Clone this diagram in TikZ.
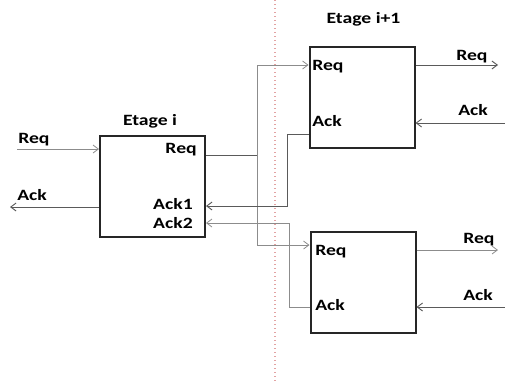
\documentclass[tikz,border=0pt]{standalone}
\usepackage{fontspec}
\setmainfont{Carlito}
\newfontfamily\stagefont[FakeStretch=1.25]{Carlito}
\usetikzlibrary{arrows.meta}
\definecolor{stageink}{HTML}{262626}
\definecolor{wireink}{HTML}{8C8C8C}
\definecolor{darkink}{HTML}{5A5A5A}
\definecolor{cutpink}{HTML}{E2A3A3}

\begin{document}
\begin{tikzpicture}[x=.75pt,y=-.75pt,
    >={Straight Barb[length=4pt,width=6pt]},
    stage/.style={draw=stageink,line width=1.5pt,minimum width=78.75pt,
      minimum height=75.75pt,inner sep=0pt},
    wire/.style={draw=wireink,line width=.6pt},
    darkwire/.style={draw=darkink,line width=.7pt},
    port/.style={font=\stagefont\bfseries\fontsize{11.8}{13}\selectfont,
      inner sep=0pt}]
    \useasboundingbox (0,0) rectangle (505,383);
    \draw[cutpink,line width=1pt,dash pattern=on 1pt off 2pt] (275,0) -- (275,383);
    \node[stage] (etagei) at (152.5,186) {};
    \node[stage] (etagea) at (362,97.5) {};
    \node[stage] (etageb) at (363,282.5) {};
    % titles
    \node[port,anchor=base] (titlei) at (150,125) {Etage i};
    \node[port,anchor=base] (titlea) at (363.5,23) {Etage i+1};
    % ports inside the stages
    \node[port,anchor=base east] (ireq) at (197,153) {Req};
    \node[port,anchor=base east] (iack1) at (193,209) {Ack1};
    \node[port,anchor=base east] (iack2) at (193,228) {Ack2};
    \node[port,anchor=base west] (areq) at (312,70) {Req};
    \node[port,anchor=base west] (aack) at (312,126) {Ack};
    \node[port,anchor=base west] (breq) at (315,255) {Req};
    \node[port,anchor=base west] (back) at (315,310) {Ack};
    % signal names outside
    \node[port,anchor=base west] (lreq) at (18,143) {Req};
    \node[port,anchor=base west] (lack) at (17,200) {Ack};
    \node[port,anchor=base west] (rareq) at (456,60) {Req};
    \node[port,anchor=base west] (raack) at (458,115) {Ack};
    \node[port,anchor=base west] (rbreq) at (463,243) {Req};
    \node[port,anchor=base west] (rback) at (463,300) {Ack};
    % free ends and bends
    \coordinate (inreq) at (17,149);
    \coordinate (outack) at (10,207);
    \coordinate (fork) at (257,155);
    \coordinate (turna) at (287,0);
    \coordinate (turnb) at (289,0);
    \coordinate (outa) at (498,65);
    \coordinate (ina) at (505,123);
    \coordinate (outb) at (498,250);
    \coordinate (inb) at (505,307);
    \draw[wire,->] (inreq) -- (inreq -| etagei.west);
    \draw[darkwire,->] (etagei.west |- outack) -- (outack);
    \draw[darkwire] (etagei.east |- fork) -- (fork);
    \draw[wire,->] (fork) |- (etagea.west |- 0,65);
    \draw[wire,->] (fork) |- (etageb.west |- 0,245);
    \draw[darkwire,->] (etagea.west |- 0,134) -| (turna |- 0,206)
      -- (etagei.east |- 0,206);
    \draw[wire,->] (etageb.west |- 0,307) -| (turnb |- 0,223)
      -- (etagei.east |- 0,223);
    \draw[darkwire,->] (etagea.east |- outa) -- (outa);
    \draw[darkwire,->] (ina) -- (ina -| etagea.east);
    \draw[wire,->] (etageb.east |- outb) -- (outb);
    \draw[darkwire,->] (inb) -- (inb -| etageb.east);
\end{tikzpicture}
\end{document}
